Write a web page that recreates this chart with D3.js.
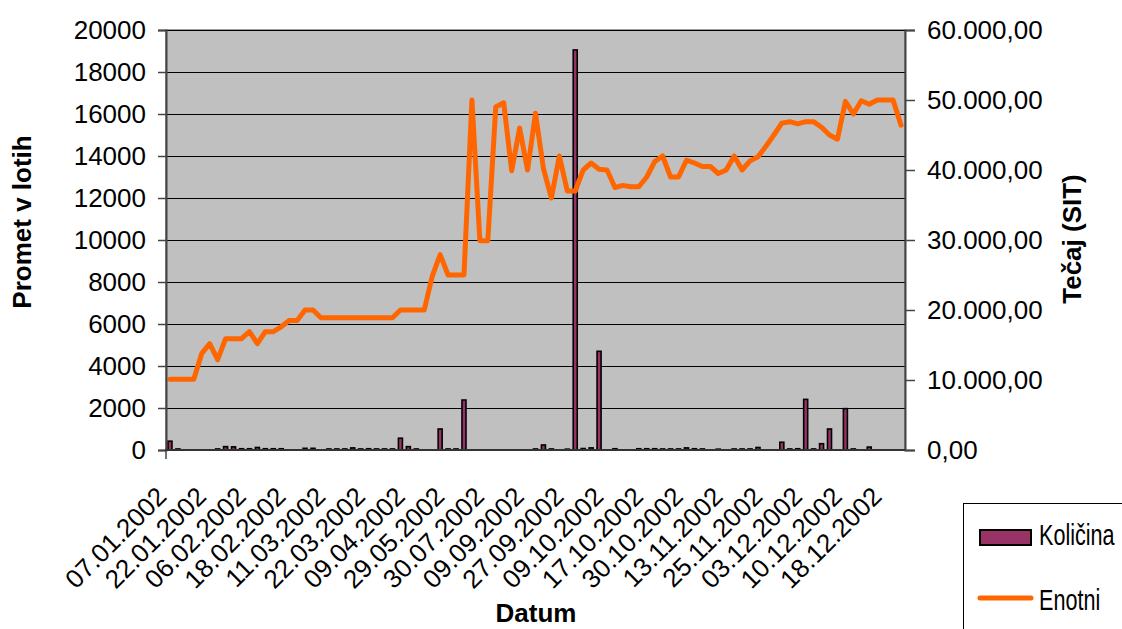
<!DOCTYPE html>
<html>
<head>
<meta charset="utf-8">
<script src="https://cdn.jsdelivr.net/npm/d3@7"></script>
<style>
  html, body { margin: 0; padding: 0; background: #fff; }
  svg { display: block; font-family: "Liberation Sans", Arial, sans-serif; }
</style>
</head>
<body>
<svg id="chart" width="1122" height="629"></svg>
<script>
// ---- data ----
const dateLabels = ["07.01.2002","22.01.2002","06.02.2002","18.02.2002","11.03.2002","22.03.2002",
  "09.04.2002","29.05.2002","30.07.2002","09.09.2002","27.09.2002","09.10.2002","17.10.2002",
  "30.10.2002","13.11.2002","25.11.2002","03.12.2002","10.12.2002","18.12.2002"];
const labelEvery = 5;

// Količina (promet v lotih) per trading day; null = no trade
const kolicina = [
  420, 50, null, null, null, null, 50, 160, 150, 60,
  60, 120, 60, 60, 60, null, null, 80, 80, null,
  50, 50, 50, 100, 50, 60, 50, 50, 50, 560,
  160, 50, null, null, 1000, 50, 50, 2380, null, null,
  null, null, null, null, null, null, 50, 240, 50, null,
  40, 19050, 70, 100, 4700, null, 60, null, null, 60,
  60, 60, 50, 50, 50, 100, 60, 50, null, 40,
  null, 50, 50, 50, 120, null, null, 370, 50, 60,
  2410, 50, 300, 1000, null, 1970, 50, null, 140, null,
  null, null, null
];

// Enotni tečaj (SIT)
const enotni = [
  10100, 10100, 10100, 10100, 13800, 15200, 12900, 15900, 15900, 15900,
  16900, 15200, 16900, 16900, 17600, 18500, 18500, 20000, 20000, 18900,
  18900, 18900, 18900, 18900, 18900, 18900, 18900, 18900, 18900, 20000,
  20000, 20000, 20000, 24800, 27900, 25000, 25000, 25000, 50000, 29900,
  29900, 49000, 49600, 39900, 46000, 40000, 48100, 40200, 36000, 42000,
  37000, 37000, 40000, 41000, 40100, 40000, 37500, 37800, 37600, 37600,
  39000, 41200, 42000, 39000, 39000, 41400, 41000, 40500, 40500, 39500,
  40000, 42000, 40000, 41300, 41900, 43400, 45000, 46700, 46900, 46600,
  46900, 46900, 46100, 45000, 44400, 49800, 48000, 49900, 49400, 50000,
  50000, 50000, 46400
];

const leftTicks = d3.range(0, 20001, 2000);
const rightTicks = d3.range(0, 60001, 10000);

// ---- layout ----
const L = 166, R = 905, T = 30, B = 450;
const svg = d3.select("#chart");
const categories = d3.range(enotni.length);

const x = d3.scaleBand().domain(categories).range([L, R]).padding(0);
const yL = d3.scaleLinear().domain([0, 20000]).range([B, T]);
const yR = d3.scaleLinear().domain([0, 60000]).range([B, T]);
const cx = i => x(i) + x.bandwidth() / 2;

const si = d3.formatLocale({decimal: ",", thousands: ".", grouping: [3], currency: ["", ""]});
const fmtR = si.format(",.2f");

// plot background
svg.append("rect").attr("x", L).attr("y", T).attr("width", R - L).attr("height", B - T)
  .attr("fill", "#C0C0C0").attr("stroke", "#808080").attr("stroke-width", 1.5);

// gridlines
svg.append("g").selectAll("line").data(leftTicks.filter(d => d > 0)).join("line")
  .attr("x1", L).attr("x2", R)
  .attr("y1", d => Math.round(yL(d)) + 0.5).attr("y2", d => Math.round(yL(d)) + 0.5)
  .attr("stroke", "#000").attr("stroke-width", 1.2);

// bars
const bw = 4;
svg.append("g").selectAll("rect").data(kolicina.map((v, i) => ({i, v})).filter(d => d.v != null)).join("rect")
  .attr("x", d => cx(d.i) - bw / 2)
  .attr("y", d => yL(d.v))
  .attr("width", bw)
  .attr("height", d => Math.max(0.5, B - yL(d.v)))
  .attr("fill", "#993366").attr("stroke", "#000").attr("stroke-width", 1.6);

// line
svg.append("path").datum(enotni)
  .attr("d", d3.line().x((d, i) => cx(i)).y(d => yR(d)))
  .attr("fill", "none").attr("stroke", "#FF6600").attr("stroke-width", 5)
  .attr("stroke-linejoin", "round").attr("stroke-linecap", "round");

// left axis
const gL = svg.append("g").attr("transform", `translate(${L},0)`)
  .call(d3.axisLeft(yL).tickValues(leftTicks).tickSize(8).tickPadding(12).tickFormat(d3.format("d")));
gL.select(".domain").attr("stroke", "#444").attr("stroke-width", 2);
gL.selectAll(".tick line").attr("stroke", "#444").attr("stroke-width", 1.5);
gL.selectAll("text").attr("font-size", 26).attr("fill", "#000").attr("font-family", "Liberation Sans, Arial");

// right axis
const gR = svg.append("g").attr("transform", `translate(${R},0)`)
  .call(d3.axisRight(yR).tickValues(rightTicks).tickSize(10).tickPadding(12).tickFormat(fmtR));
gR.select(".domain").attr("stroke", "#444").attr("stroke-width", 2);
gR.selectAll(".tick line").attr("stroke", "#444").attr("stroke-width", 1.5);
gR.selectAll("text").attr("font-size", 26).attr("fill", "#000").attr("font-family", "Liberation Sans, Arial");

// x axis
svg.append("line").attr("x1", L - 1).attr("x2", R).attr("y1", B).attr("y2", B)
  .attr("stroke", "#333").attr("stroke-width", 2);
svg.append("line").attr("x1", L).attr("x2", L).attr("y1", B).attr("y2", B + 9)
  .attr("stroke", "#444").attr("stroke-width", 1.5);
const gX = svg.append("g").attr("transform", `translate(0,${B})`)
  .call(d3.axisBottom(x).tickValues(categories.filter(i => i % labelEvery === 0))
    .tickSize(0).tickFormat(i => dateLabels[i / labelEvery]));
gX.select(".domain").remove();
gX.selectAll("text")
  .attr("font-size", 26).attr("fill", "#000").attr("font-family", "Liberation Sans, Arial")
  .attr("y", 0).attr("dy", 0)
  .attr("text-anchor", "end")
  .attr("transform", "translate(-2,48) rotate(-45)");

// axis titles
svg.append("text").attr("transform", "translate(31,222) rotate(-90)")
  .attr("text-anchor", "middle").attr("font-size", 26).attr("font-weight", "bold")
  .text("Promet v lotih");
svg.append("text").attr("transform", "translate(1081,239) rotate(-90)")
  .attr("text-anchor", "middle").attr("font-size", 26).attr("font-weight", "bold")
  .text("Tečaj (SIT)");
svg.append("text").attr("x", 536).attr("y", 622)
  .attr("text-anchor", "middle").attr("font-size", 26).attr("font-weight", "bold")
  .text("Datum");

// legend
const lg = svg.append("g");
lg.append("rect").attr("x", 963.5).attr("y", 503.5).attr("width", 200).attr("height", 200)
  .attr("fill", "#fff").attr("stroke", "#000").attr("stroke-width", 1);
lg.append("rect").attr("x", 980).attr("y", 530).attr("width", 51).attr("height", 15)
  .attr("fill", "#993366").attr("stroke", "#000").attr("stroke-width", 2);
lg.append("text").attr("transform", "translate(1039,545) scale(0.72,1)")
  .attr("font-size", 30).text("Količina");
lg.append("line").attr("x1", 980).attr("x2", 1031).attr("y1", 598).attr("y2", 598)
  .attr("stroke", "#FF6600").attr("stroke-width", 5).attr("stroke-linecap", "round");
lg.append("text").attr("transform", "translate(1039,610) scale(0.72,1)")
  .attr("font-size", 30).text("Enotni");
</script>
</body>
</html>
